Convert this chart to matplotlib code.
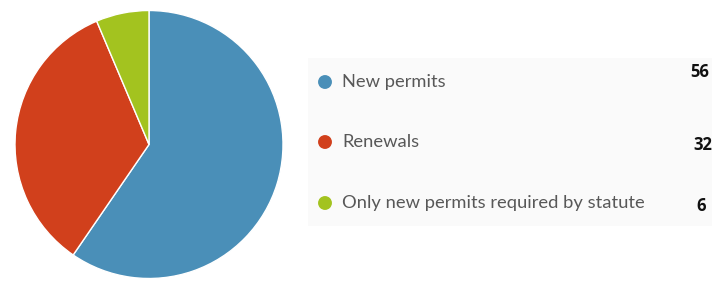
import matplotlib
matplotlib.use('Agg')
import matplotlib.pyplot as plt
from matplotlib.patches import Rectangle

# data
labels = ['New permits', 'Renewals', 'Only new permits required by statute']
values = [56, 32, 6]
colors = ['#4a8fb8', '#d1401c', '#a3c31f']

W, H = 712, 283
fig = plt.figure(figsize=(W / 100, H / 100), dpi=100)
fig.patch.set_facecolor('white')

# overlay axes in pixel coords for legend panel
bg = fig.add_axes([0, 0, 1, 1])
bg.set_xlim(0, W)
bg.set_ylim(H, 0)
bg.axis('off')
bg.add_patch(Rectangle((308, 58), 404, 168, facecolor='#fafafa', edgecolor='none'))

# pie
cx, cy, r = 149, 144.5, 134
ax = fig.add_axes([(cx - r) / W, (H - cy - r) / H, 2 * r / W, 2 * r / H])
ax.pie(values, colors=colors, startangle=90, counterclock=False,
       wedgeprops=dict(edgecolor='white', linewidth=1.0))
ax.set_xlim(-1, 1)
ax.set_ylim(-1, 1)
ax.set_aspect('equal')

# legend rows
row_y = [82, 142, 203]
val_y = [72, 145, 206]
val_x = [690, 693, 696]
for lab, val, col, y, vy, vx in zip(labels, values, colors, row_y, val_y, val_x):
    bg.scatter([325], [y], s=100, color=col, edgecolors='none', zorder=3)
    bg.text(342, y, lab, fontsize=13.2, color='#585858', va='center', ha='left',
            family='Lato')
    bg.text(vx, vy, str(val), fontsize=12, color='#111111', va='center', ha='left',
            fontweight='bold', family='Open Sans')

plt.savefig('out.png', dpi=100)
